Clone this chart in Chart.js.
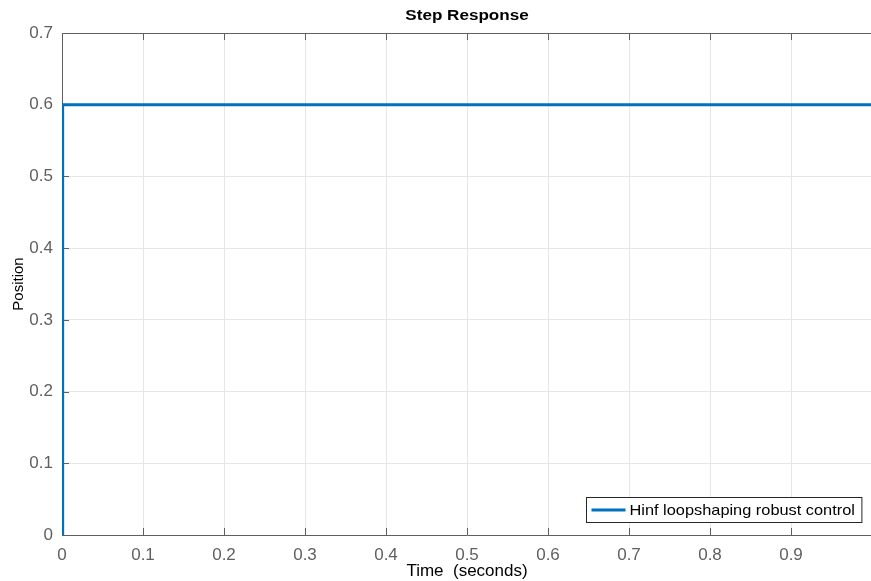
<!DOCTYPE html>
<html>
<head>
<meta charset="utf-8">
<script src="https://cdn.jsdelivr.net/npm/chart.js@4.4.1/dist/chart.umd.min.js"></script>
<style>
  html, body { margin: 0; padding: 0; overflow: hidden; background: #fff; }
  #wrap { width: 880px; height: 592px; }
</style>
</head>
<body>
<div id="wrap"><canvas id="stepChart" width="880" height="592"></canvas></div>
<script>
// datos
const tiempo = [0, 0.0008, 1.0];
const posicion = [0, 0.6, 0.6];
const xTicks = [0, 0.1, 0.2, 0.3, 0.4, 0.5, 0.6, 0.7, 0.8, 0.9];
const yTicks = [0, 0.1, 0.2, 0.3, 0.4, 0.5, 0.6, 0.7];
const serieNombre = 'Hinf loopshaping robust control';
const titulo = 'Step Response';

const ejeColor = '#5f5f5f';
const fuente = "'Liberation Sans', Arial, Helvetica, sans-serif";

function fmt(v) {
    return v === 0 ? '0' : v.toFixed(1);
}

// texto algo estirado en horizontal, como en la figura original
function textoAncho(ctx, txt, x, y, sx) {
    ctx.save();
    ctx.translate(x, y);
    ctx.scale(sx, 1);
    ctx.fillText(txt, 0, 0);
    ctx.restore();
}

// marco superior, marcas hacia adentro, titulo y leyenda (estilo MATLAB)
const marcoPlugin = {
    id: 'marco',
    beforeDatasetsDraw(chart) {
        const ctx = chart.ctx;
        const a = chart.chartArea;
        const x = chart.scales.x;
        const y = chart.scales.y;
        ctx.save();
        ctx.strokeStyle = ejeColor;
        ctx.lineWidth = 1;
        ctx.beginPath();
        ctx.moveTo(a.left, a.top + 0.5);
        ctx.lineTo(a.right + 2, a.top + 0.5);
        xTicks.forEach(v => {
            const px = Math.round(x.getPixelForValue(v)) + 0.5;
            ctx.moveTo(px, a.bottom);
            ctx.lineTo(px, a.bottom - 7);
            ctx.moveTo(px, a.top);
            ctx.lineTo(px, a.top + 7);
        });
        yTicks.forEach(v => {
            const py = Math.round(y.getPixelForValue(v)) + 0.5;
            ctx.moveTo(a.left, py);
            ctx.lineTo(a.left + 7, py);
        });
        ctx.stroke();

        // titulo centrado sobre el area de trazado
        ctx.font = 'bold 14px ' + fuente;
        ctx.fillStyle = '#000';
        ctx.textBaseline = 'middle';
        const sx = 1.22;
        const tw = ctx.measureText(titulo).width * sx;
        textoAncho(ctx, titulo, (a.left + a.right) / 2 - tw / 2, 16.5, sx);
        ctx.restore();
    },
    afterDatasetsDraw(chart) {
        // leyenda dentro del area, abajo a la derecha
        const ctx = chart.ctx;
        const a = chart.chartArea;
        const ds = chart.data.datasets[0];
        ctx.save();
        ctx.font = '15px ' + fuente;
        const sx = 1.09;
        const tw = ctx.measureText(ds.label).width * sx;
        const w = tw + 50;
        const h = 25;
        const x0 = Math.round(a.right - 11 - w) + 0.5;
        const y0 = Math.round(a.bottom - 13 - h) + 0.5;
        ctx.fillStyle = '#fff';
        ctx.fillRect(x0, y0, w, h);
        ctx.strokeStyle = '#262626';
        ctx.lineWidth = 1;
        ctx.strokeRect(x0, y0, w, h);
        ctx.strokeStyle = ds.borderColor;
        ctx.lineWidth = 3;
        ctx.beginPath();
        ctx.moveTo(x0 + 5, y0 + h / 2);
        ctx.lineTo(x0 + 39, y0 + h / 2);
        ctx.stroke();
        ctx.fillStyle = '#000';
        ctx.textBaseline = 'middle';
        textoAncho(ctx, ds.label, x0 + 43, y0 + h / 2 + 1, sx);
        ctx.restore();
    }
};

const ctx = document.getElementById('stepChart').getContext('2d');
const myChart = new Chart(ctx, {
    type: 'line',
    data: {
        datasets: [{
            label: serieNombre,
            data: tiempo.map((t, i) => ({ x: t, y: posicion[i] })),
            borderColor: '#0072BD',
            borderWidth: 3,
            pointRadius: 0,
            tension: 0,
            fill: false
        }]
    },
    options: {
        responsive: false,
        animation: false,
        layout: { padding: { left: 0, right: 8, top: 33, bottom: 0 } },
        plugins: {
            legend: { display: false },
            tooltip: { enabled: false },
            title: { display: false }
        },
        scales: {
            x: {
                type: 'linear',
                min: 0,
                max: 1.0,
                afterBuildTicks: s => { s.ticks = xTicks.map(v => ({ value: v })); },
                afterFit: s => { s.height = 57; },
                grid: { color: '#e6e6e6', drawTicks: false },
                border: { color: ejeColor },
                ticks: {
                    color: ejeColor,
                    padding: 10,
                    maxRotation: 0,
                    font: { family: fuente, size: 17 },
                    callback: v => fmt(v)
                },
                title: {
                    display: true,
                    text: 'Time  (seconds)',
                    color: '#000',
                    font: { family: fuente, size: 17 },
                    padding: { top: 0, bottom: 10 }
                }
            },
            y: {
                min: 0,
                max: 0.7,
                afterBuildTicks: s => { s.ticks = yTicks.map(v => ({ value: v })); },
                afterFit: s => { s.width = 62; },
                grid: { color: '#e6e6e6', drawTicks: false },
                border: { color: ejeColor },
                ticks: {
                    color: ejeColor,
                    padding: 9,
                    font: { family: fuente, size: 17 },
                    callback: v => fmt(v)
                },
                title: {
                    display: true,
                    text: 'Position',
                    color: '#000',
                    font: { family: fuente, size: 15 },
                    padding: { top: 10, bottom: 4 }
                }
            }
        }
    },
    plugins: [marcoPlugin]
});
</script>
</body>
</html>
